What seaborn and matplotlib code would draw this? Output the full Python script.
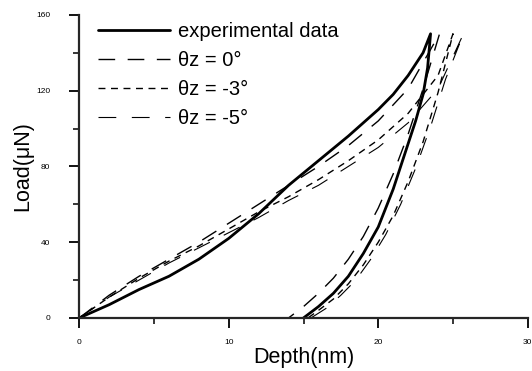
import matplotlib
matplotlib.use("Agg")
import matplotlib.pyplot as plt
import numpy as np
import pandas as pd
import seaborn as sns
from matplotlib.ticker import MultipleLocator

# experimental data (loading, then unloading)
exp_load_x = [0, 2, 4, 6, 8, 10, 12, 14, 16, 18, 20, 21, 22, 23, 23.5]
exp_load_y = [0, 7, 15, 22, 31, 42, 55, 70, 83, 96, 110, 118, 128, 140, 150]
exp_unload_x = [23.5, 23.3, 23, 22.5, 22, 21, 20, 19, 18, 17, 16, 15]
exp_unload_y = [150, 132, 118, 104, 92, 68, 48, 34, 22, 13, 6, 0]

# simulation thetaz = 0
s0_load_x = [0, 2, 4, 6, 8, 10, 12, 14, 16, 18, 20, 22, 24.1]
s0_load_y = [0, 12, 22, 31, 40, 50, 60, 70, 80, 91, 104, 121, 150]
s0_unload_x = [24.1, 23, 22, 21, 20, 19, 18, 17, 16, 15, 14]
s0_unload_y = [150, 121, 97, 76, 58, 43, 31, 21, 13, 6, 0]

# simulation thetaz = -3
s3_load_x = [0, 2, 4, 6, 8, 10, 12, 14, 16, 18, 20, 22, 24, 25]
s3_load_y = [0, 11, 21, 30, 38, 47, 56, 64, 73, 83, 94, 108, 128, 150]
s3_unload_x = [25, 24, 23, 22, 21, 20, 19, 18, 17, 16, 15.3]
s3_unload_y = [150, 119, 93, 72, 54, 40, 28, 18, 10, 4, 0]

# simulation thetaz = -5
s5_load_x = [0, 2, 4, 6, 8, 10, 12, 14, 16, 18, 20, 22, 24, 25.7]
s5_load_y = [0, 11, 20, 29, 37, 45, 53, 62, 70, 80, 90, 103, 121, 150]
s5_unload_x = [25.7, 24.5, 23.5, 22.5, 21.5, 20.5, 19.5, 18.5, 17.5, 16.5, 15.5]
s5_unload_y = [150, 126, 101, 79, 60, 44, 31, 20, 12, 5, 0]

labels = ["experimental data", "θz = 0°", "θz = -3°", "θz = -5°"]
curves = [
    (exp_load_x + exp_unload_x, exp_load_y + exp_unload_y),
    (s0_load_x + s0_unload_x, s0_load_y + s0_unload_y),
    (s3_load_x + s3_unload_x, s3_load_y + s3_unload_y),
    (s5_load_x + s5_unload_x, s5_load_y + s5_unload_y),
]
styles = [
    dict(lw=2.0, dashes=None),
    dict(lw=1.0, dashes=(12, 9)),
    dict(lw=1.0, dashes=(5, 4)),
    dict(lw=0.8, dashes=(16, 14)),
]

sns.set_style("ticks")
plt.rcParams["font.family"] = ["Liberation Sans", "DejaVu Sans"]
plt.rcParams["text.color"] = "black"
plt.rcParams["axes.labelcolor"] = "black"
plt.rcParams["xtick.color"] = "black"
plt.rcParams["ytick.color"] = "black"

fig = plt.figure(figsize=(5.32, 3.71), dpi=100)
ax = fig.add_axes([0.149, 0.143, 0.843, 0.817])

for (xs, ys), lab, st in zip(curves, labels, styles):
    df = pd.DataFrame({"depth": xs, "load": ys})
    sns.lineplot(data=df, x="depth", y="load", sort=False, estimator=None,
                 color="black", lw=st["lw"], label=lab, ax=ax)
    if st["dashes"] is not None:
        ax.lines[-1].set_dashes(st["dashes"])

ax.set_xlim(0, 30)
ax.set_ylim(0, 160)
ax.xaxis.set_major_locator(MultipleLocator(10))
ax.xaxis.set_minor_locator(MultipleLocator(5))
ax.yaxis.set_major_locator(MultipleLocator(40))
ax.yaxis.set_minor_locator(MultipleLocator(20))
ax.tick_params(which="major", length=7, width=1.3, labelsize=6, direction="out")
ax.tick_params(axis="x", which="major", pad=8)
ax.tick_params(axis="y", which="major", pad=14)
ax.tick_params(which="minor", length=4, width=1.1, direction="out")
for s in ["left", "bottom"]:
    ax.spines[s].set_linewidth(1.6)
ax.spines["top"].set_visible(False)
ax.spines["right"].set_visible(False)

ax.set_xlabel("Depth(nm)", fontsize=15.5, labelpad=1)
ax.set_ylabel("Load(μN)", fontsize=15.5, labelpad=2)

ax.legend(loc="upper left", bbox_to_anchor=(0.184, 0.94), bbox_transform=fig.transFigure,
          frameon=False, fontsize=14.5, handlelength=3.6, handletextpad=0.4,
          labelspacing=0.5, borderaxespad=0, borderpad=0)

fig.savefig("out.png", dpi=100)
